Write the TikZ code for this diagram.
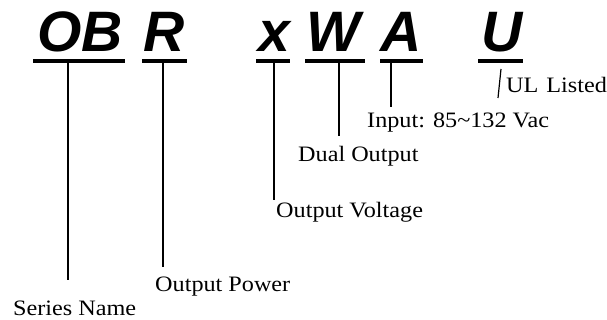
\documentclass[tikz,border=0pt]{standalone}
\usepackage{fontspec}
\setmainfont{Liberation Serif}
\newfontfamily\codefont{Liberation Sans}
\newfontfamily\lblfont[FakeStretch=1.1]{Liberation Serif}
\begin{document}
\begin{tikzpicture}[x=1pt,y=-1pt,
  code/.style={anchor=base, inner sep=0pt, font=\codefont\fontsize{57}{57}\selectfont\bfseries\itshape},
  bar/.style={fill=black, inner sep=0pt, minimum height=3.5pt},
  lbl/.style={anchor=base west, inner sep=0pt, font=\lblfont\fontsize{22}{22}\selectfont},
  lead/.style={line width=1.6pt}]
\useasboundingbox (0,0) rectangle (607,320);
% part number letters
\node[code] (ob) at (80,52) {OB};
\node[code] (r) at (164,52) {R};
\node[code] (x) at (274,52) {x};
\node[code] (w) at (333,52) {W};
\node[code] (a) at (401,52) {A};
\node[code] (u) at (502,52) {U};
% underlines
\node[bar, minimum width=92pt] (uob) at (79,61) {};
\node[bar, minimum width=45pt] (ur) at (164.5,61) {};
\node[bar, minimum width=34pt] (ux) at (273,61) {};
\node[bar, minimum width=60pt] (uw) at (335,61) {};
\node[bar, minimum width=43pt] (ua) at (401.5,61) {};
\node[bar, minimum width=45pt] (uu) at (500.5,61) {};
% labels
\node[lbl] (sname) at (13,315) {Series Name};
\node[lbl] (opower) at (155,291) {Output Power};
\node[lbl] (ovolt) at (276,218) {Output Voltage};
\node[lbl] (dual) at (298,162) {Dual Output};
\node[lbl] (input) at (367,128) {Input: 85\char`\~132 Vac};
\node[lbl] (ul) at (506,93) {UL\hspace{8pt}Listed};
% lead ends
\coordinate (fob) at (68,280);
\coordinate (fr) at (163,267);
\coordinate (fx) at (274,200);
\coordinate (fw) at (339,136);
\coordinate (fa) at (391,107);
\coordinate (tu) at (501,69);
\coordinate (fu) at (498,98);
\draw[lead] (fob |- uob.south) -- (fob);
\draw[lead] (fr |- ur.south) -- (fr);
\draw[lead] (fx |- ux.south) -- (fx);
\draw[lead] (fw |- uw.south) -- (fw);
\draw[lead] (fa |- ua.south) -- (fa);
\draw[lead, line width=1.2pt] (tu) -- (fu);
\end{tikzpicture}
\end{document}
